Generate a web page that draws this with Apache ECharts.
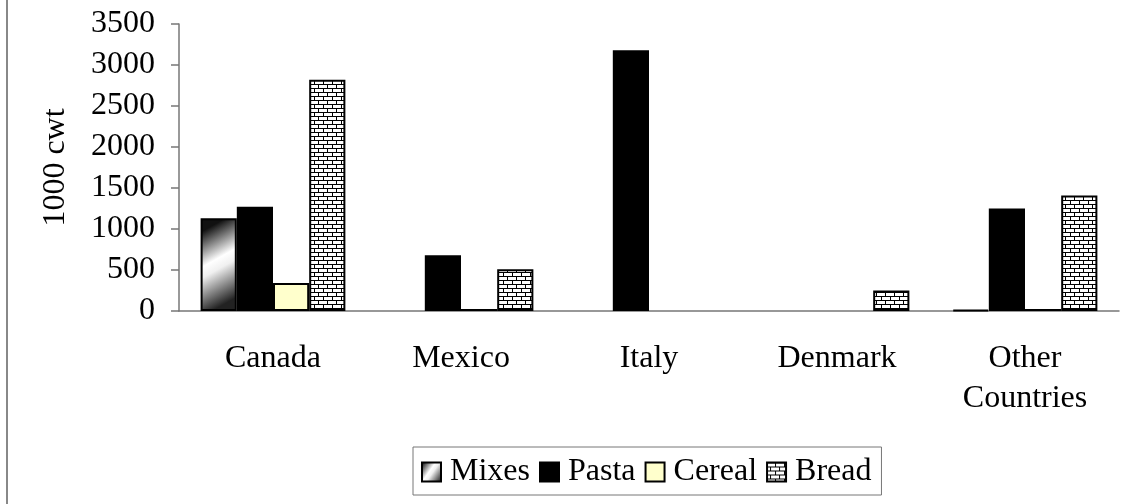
<!DOCTYPE html>
<html>
<head>
<meta charset="utf-8">
<script src="https://cdn.jsdelivr.net/npm/echarts@6/dist/echarts.min.js"></script>
<style>html,body{margin:0;padding:0;background:#fff}#c{width:1128px;height:504px}</style>
</head>
<body>
<div id="c"></div>
<script>
var categories = ['Canada', 'Mexico', 'Italy', 'Denmark', 'Other Countries'];
var mixes  = [1130, 0, 0, 0, 15];
var pasta  = [1270, 680, 3180, 0, 1250];
var cereal = [340, 25, 0, 0, 25];
var bread  = [2820, 510, 0, 250, 1410];
var yTicks = [0, 500, 1000, 1500, 2000, 2500, 3000, 3500];

function brick() {
  var c = document.createElement('canvas');
  c.width = 9; c.height = 8;
  var g = c.getContext('2d');
  g.fillStyle = '#000'; g.fillRect(0, 0, 9, 8);
  g.fillStyle = '#fff';
  g.fillRect(0, 1, 8, 3);
  g.fillRect(0, 5, 3, 3);
  g.fillRect(4, 5, 5, 3);
  return c;
}
function noZero(arr) { return arr.map(function (v) { return v === 0 ? null : v; }); }
var font = 'Liberation Serif';
var fs = 32;
var chart = echarts.init(document.getElementById('c'));
var border = {borderColor: '#000', borderWidth: 2};
chart.setOption({
  animation: false,
  textStyle: {fontFamily: font, color: '#000'},
  graphic: [{type: 'line', shape: {x1: 7, y1: 0, x2: 7, y2: 504}, style: {stroke: '#888', lineWidth: 2}}],
  grid: {left: 179, top: 24, right: 9, bottom: 193},
  legend: {
    left: 413, top: 447, padding: [9, 10, 7, 8],
    borderColor: '#777', borderWidth: 1,
    itemWidth: 19, itemHeight: 19, itemGap: 9,
    textStyle: {fontFamily: font, fontSize: fs, color: '#000', padding: [0, 0, 0, 4]},
    data: ['Mixes', 'Pasta', 'Cereal', 'Bread'],
    icon: 'rect'
  },
  xAxis: {
    type: 'category', data: categories,
    axisLine: {lineStyle: {color: '#777', width: 1.5}},
    axisTick: {length: 10, lineStyle: {color: '#777', width: 1.5}},
    axisLabel: {fontFamily: font, fontSize: fs, color: '#000', margin: 28, lineHeight: 40,
      formatter: function (v) { return v.replace(' ', '\n'); }}
  },
  yAxis: {
    type: 'value', min: yTicks[0], max: yTicks[yTicks.length - 1], interval: 500,
    name: '1000 cwt', nameLocation: 'middle', nameGap: 107, nameRotate: 90,
    nameTextStyle: {fontFamily: font, fontSize: fs, color: '#000'},
    axisLine: {show: true, lineStyle: {color: '#777', width: 1.5}},
    axisTick: {show: true, length: 8, lineStyle: {color: '#777', width: 1.5}},
    axisLabel: {fontFamily: font, fontSize: fs, color: '#000', margin: 24,
      formatter: function (v) { return String(v); }},
    splitLine: {show: false}
  },
  series: [
    {name: 'Mixes', type: 'bar', data: noZero(mixes), barGap: '0%', barCategoryGap: '23%',
      itemStyle: Object.assign({color: new echarts.graphic.LinearGradient(0, 0.15, 1, 0.85, [
        {offset: 0, color: '#111'}, {offset: 0.42, color: '#fff'}, {offset: 0.55, color: '#f0f0f0'}, {offset: 1, color: '#222'}])}, border)},
    {name: 'Pasta', type: 'bar', data: noZero(pasta), itemStyle: Object.assign({color: '#000'}, border)},
    {name: 'Cereal', type: 'bar', data: noZero(cereal), itemStyle: Object.assign({color: '#FFFFCC'}, border)},
    {name: 'Bread', type: 'bar', data: noZero(bread), itemStyle: Object.assign({color: {image: brick(), repeat: 'repeat'}}, border)}
  ]
});
</script>
</body>
</html>
